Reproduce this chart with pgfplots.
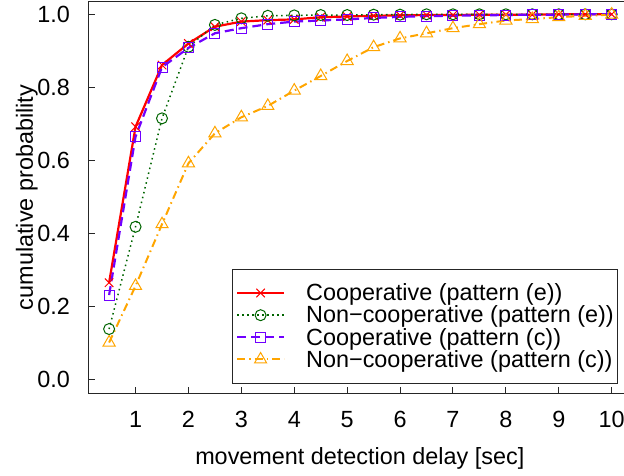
\documentclass[border=0pt]{standalone}
\usepackage{pgfplots}
\pgfplotsset{compat=1.18}
\usepackage{fontspec}
\setmainfont{Liberation Sans}
\newcommand\fs{\fontsize{23.4bp}{28bp}\selectfont}
\definecolor{cred}{HTML}{FF0000}
\definecolor{cgreen}{HTML}{006400}
\definecolor{cblue}{HTML}{7000FF}
\definecolor{corange}{HTML}{FFA500}
\begin{document}
\begin{tikzpicture}
\begin{axis}[
  name=ax, at={(0,0)}, anchor=south west,
  scale only axis, width=535.9bp, height=391.6bp,
  xmin=0.12, xmax=10.25, ymin=-0.038, ymax=1.0345,
  xtick={1,2,3,4,5,6,7,8,9,10}, ytick={0,0.2,0.4,0.6,0.8,1},
  tick align=inside, xtick pos=bottom, ytick pos=left,
  axis line style={line width=1bp, black!85},
  major tick style={line width=1bp, black!85},
  major tick length=6bp,
  tick label style={font=\fs},
  /pgf/number format/assume math mode=true,
  yticklabel style={/pgf/number format/fixed, /pgf/number format/fixed zerofill, /pgf/number format/precision=1},
  yticklabel style={anchor=east, inner sep=0pt, xshift=-19bp},
  xticklabel style={anchor=north, inner sep=0pt, yshift=-18bp},
  xlabel={movement detection delay [sec]},
  ylabel={cumulative probability},
  label style={font=\fs},
  xlabel style={at={(axis description cs:0.5053,-0.1830)}, anchor=base, inner sep=0pt},
  ylabel style={at={(axis description cs:-0.1045,0.5)}, anchor=base, inner sep=0pt},
  legend style={font=\fs, at={(axis description cs:0.9877,0.0237)}, anchor=south east,
    draw=black!85, line width=1bp, inner xsep=4bp, inner ysep=14.8bp, row sep=3.7bp,
    nodes={inner sep=0pt}, /tikz/every odd column/.append style={column sep=21bp}},
  legend cell align=left,
  legend image code/.code={\draw[mark repeat=2,mark phase=2,#1] plot coordinates {(0bp,0bp) (23.5bp,0bp) (47bp,0bp)};},
]
\addplot[color=cred, line width=2.2bp, mark=x, mark size=6bp, mark options={solid, line width=1bp}] coordinates {
(0.5,0.265) (1,0.692) (1.5,0.861) (2,0.920) (2.5,0.966) (3,0.980) (3.5,0.984) (4,0.986) (4.5,0.992) (5,0.994)
(5.5,0.996) (6,0.997) (6.5,0.998) (7,0.998) (7.5,0.999) (8,0.999) (8.5,0.999) (9,1.0) (9.5,1.0) (10,1.0)};
\addlegendentry{Cooperative (pattern (e))}
\addplot[color=cgreen, line width=1.5bp, dash pattern=on 1.5bp off 3.5bp, mark=o, mark size=5.5bp, mark options={solid, line width=1bp}] coordinates {
(0.5,0.138) (1,0.418) (1.5,0.715) (2,0.911) (2.5,0.971) (3,0.989) (3.5,0.996) (4,0.997) (4.5,0.998) (5,0.998)
(5.5,0.999) (6,0.999) (6.5,1.0) (7,1.0) (7.5,1.0) (8,1.0) (8.5,1.0) (9,1.0) (9.5,1.0) (10,1.0)};
\addlegendentry{Non−cooperative (pattern (e))}
\addplot[color=cblue, line width=2.2bp, dash pattern=on 9bp off 5bp, mark=square, mark size=5bp, mark options={solid, line width=1bp}] coordinates {
(0.5,0.231) (1,0.665) (1.5,0.855) (2,0.908) (2.5,0.948) (3,0.962) (3.5,0.973) (4,0.980) (4.5,0.983) (5,0.986)
(5.5,0.990) (6,0.993) (6.5,0.995) (7,0.996) (7.5,0.997) (8,0.998) (8.5,0.999) (9,0.999) (9.5,1.0) (10,1.0)};
\addlegendentry{Cooperative (pattern (c))}
\addplot[color=corange, line width=2bp, dash pattern=on 8bp off 4bp on 1.5bp off 4bp, mark=triangle, mark size=7bp, mark options={solid, line width=1bp}] coordinates {
(0.5,0.101) (1,0.256) (1.5,0.425) (2,0.592) (2.5,0.674) (3,0.718) (3.5,0.749) (4,0.791) (4.5,0.831) (5,0.872)
(5.5,0.910) (6,0.934) (6.5,0.948) (7,0.962) (7.5,0.973) (8,0.983) (8.5,0.987) (9,0.992) (9.5,0.996) (10,0.999)};
\addlegendentry{Non−cooperative (pattern (c))}
\end{axis}
\pgfresetboundingbox
\path[use as bounding box] (-89bp,-82.7bp) rectangle (535bp,393.3bp);
\end{tikzpicture}
\end{document}
